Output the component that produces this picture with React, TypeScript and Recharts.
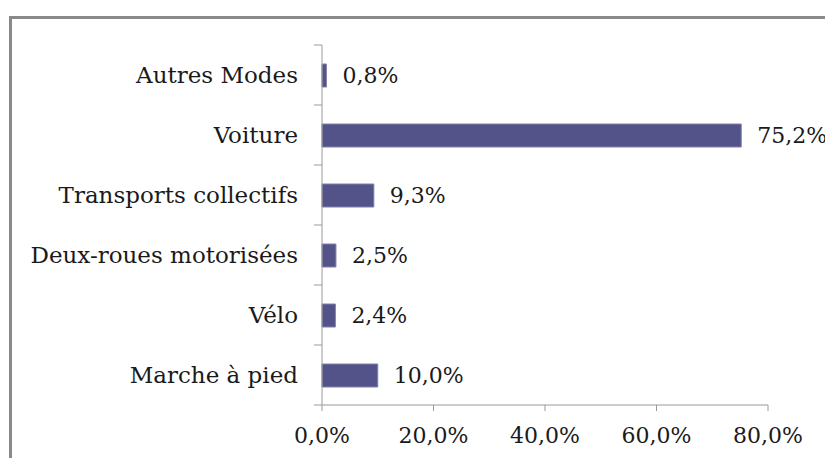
import React from "react";
import { Bar, BarChart, LabelList, XAxis, YAxis } from "recharts";

const modes = ["Autres Modes", "Voiture", "Transports collectifs", "Deux-roues motorisées", "Vélo", "Marche à pied"];
const shares = [0.8, 75.2, 9.3, 2.5, 2.4, 10.0];
const xTicks = [0, 20, 40, 60, 80];

const data = modes.map((name, i) => ({ name, share: shares[i] }));

const W = 825;
const H = 458;
const M = { top: 45, right: 57, bottom: 0, left: 0 };
const X_AXIS_H = 53;
const FONT = "'DejaVu Serif', 'Liberation Serif', serif";
const FS = 22;
const band = (H - M.top - M.bottom - X_AXIS_H) / modes.length;

const pct = (v: number) => v.toFixed(1).replace(".", ",") + "%";

function ModeTick(props: any) {
  const { x, y, payload, index } = props;
  const axisX = x + 6;
  return (
    <g>
      <line x1={axisX - 8} x2={axisX} y1={y - band / 2} y2={y - band / 2} stroke="#9a9a9a" />
      {index === modes.length - 1 && (
        <line x1={axisX - 8} x2={axisX} y1={y + band / 2} y2={y + band / 2} stroke="#9a9a9a" />
      )}
      <text x={axisX - 24} y={y} dy="0.35em" textAnchor="end" fontFamily={FONT} fontSize={23} fill="#1a1a1a">
        {payload.value}
      </text>
    </g>
  );
}

export default function App() {
  return (
    <div style={{ position: "absolute", left: 0, top: 0, width: W, height: H, overflow: "hidden", background: "#fff" }}>
      <div
        style={{
          position: "absolute",
          left: 9,
          top: 16,
          width: 900,
          height: 600,
          borderLeft: "3px solid #8a8a8a",
          borderTop: "3px solid #8a8a8a",
        }}
      />
      <div style={{ position: "absolute", left: 0, top: 0 }}>
        <BarChart width={W} height={H} data={data} layout="vertical" margin={M} barSize={23}>
          <XAxis
            type="number"
            domain={[0, 80]}
            ticks={xTicks}
            tickFormatter={pct}
            height={X_AXIS_H}
            stroke="#9a9a9a"
            tickSize={6}
            tickMargin={16}
            tick={{ fontFamily: FONT, fontSize: FS, fill: "#1a1a1a" }}
          />
          <YAxis
            type="category"
            dataKey="name"
            width={322}
            stroke="#9a9a9a"
            tickLine={false}
            tickMargin={0}
            tick={<ModeTick />}
          />
          <Bar dataKey="share" fill="#53538a" stroke="#8080aa" strokeWidth={1} isAnimationActive={false}>
            <LabelList
              dataKey="share"
              position="right"
              offset={16}
              formatter={(v: any) => pct(Number(v))}
              style={{ fontFamily: FONT, fontSize: FS, fill: "#1a1a1a" }}
            />
          </Bar>
        </BarChart>
      </div>
    </div>
  );
}
